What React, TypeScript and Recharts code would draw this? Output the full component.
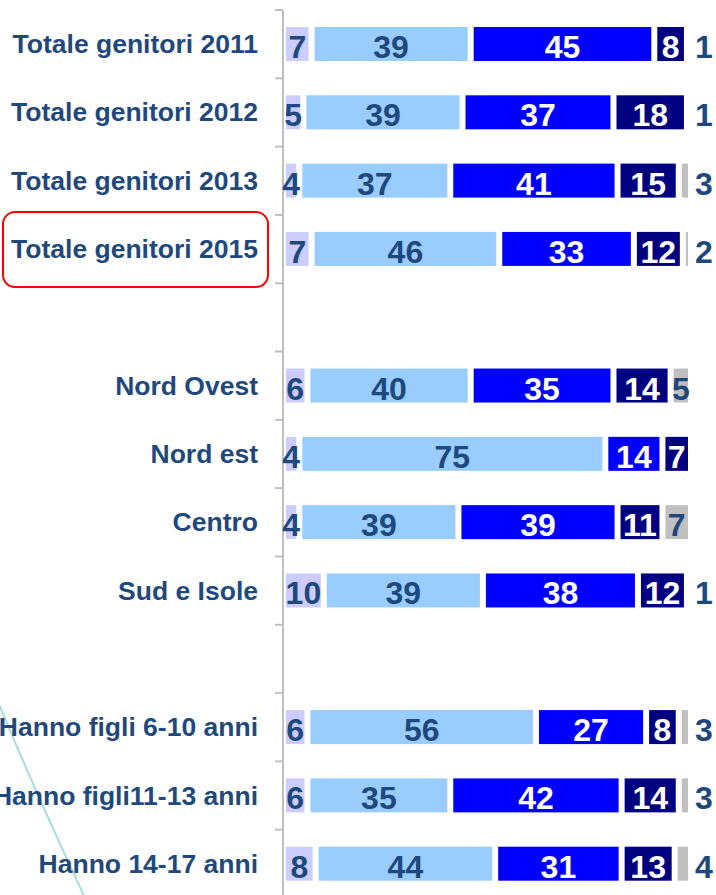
import { BarChart, Bar, XAxis, YAxis, LabelList } from 'recharts';

// rows, top to bottom (empty strings are the spacer rows)
const categories = [
  'Totale genitori 2011',
  'Totale genitori 2012',
  'Totale genitori 2013',
  'Totale genitori 2015',
  '',
  'Nord Ovest',
  'Nord est',
  'Centro',
  'Sud e Isole',
  '',
  'Hanno figli 6-10 anni',
  'Hanno figli11-13 anni',
  'Hanno 14-17 anni',
];

const seg1 = [7, 5, 4, 7, null, 6, 4, 4, 10, null, 6, 6, 8];
const seg2 = [39, 39, 37, 46, null, 40, 75, 39, 39, null, 56, 35, 44];
const seg3 = [45, 37, 41, 33, null, 35, 14, 39, 38, null, 27, 42, 31];
const seg4 = [8, 18, 15, 12, null, 14, 7, 11, 12, null, 8, 14, 13];
const seg5 = [1, 1, 3, 2, null, 5, 0, 7, 1, null, 3, 3, 4];

const highlighted = 'Totale genitori 2015';

const TEXT = '#1F497D';
const FONT = '"Liberation Sans", Arial, sans-serif';
const AXIS_X = 283;
const TOP = 10;
const PLOT_H = 888;
const BAND = PLOT_H / categories.length;

const data = categories.map((name, i) => ({
  id: `row${i}`,
  name,
  s1: seg1[i],
  s2: seg2[i],
  s3: seg3[i],
  s4: seg4[i],
  s5: seg5[i],
}));

const nameById: Record<string, string> = {};
data.forEach((d) => (nameById[d.id] = d.name));

// bars with a white gap around each segment
const InsetBar = (props: any) => {
  const { x, y, width, height, fill } = props;
  const w = width - 6;
  const h = height - 6;
  if (w <= 0 || h <= 0) return null;
  return <rect x={x + 3} y={y + 3} width={w} height={h} fill={fill} />;
};

const CategoryTick = (props: any) => {
  const { x, y, payload } = props;
  const label = nameById[payload.value] ?? '';
  const top = y - BAND / 2;
  return (
    <g>
      <line x1={AXIS_X - 8} x2={AXIS_X} y1={top} y2={top} stroke="#BFBFBF" strokeWidth={2} />
      {label === highlighted && (
        <rect x={3} y={y - 37} width={265} height={75} rx={12} ry={12} fill="none" stroke="#FF0000" strokeWidth={2} />
      )}
      <text
        x={x}
        y={y + 9}
        textAnchor="end"
        fill={TEXT}
        fontFamily={FONT}
        fontWeight="bold"
        fontSize={26.5}
      >
        {label}
      </text>
    </g>
  );
};

const makeLabel = (color: string, outsideIfSmall = false) => (props: any) => {
  const vb = props.viewBox || {};
  const x = props.x ?? vb.x;
  const y = props.y ?? vb.y;
  const width = props.width ?? vb.width;
  const height = props.height ?? vb.height;
  const value = props.value;
  if (value == null || value === 0) return null;
  const cy = y + height / 2 + 14;
  if (outsideIfSmall && value < 5) {
    return (
      <text x={x + width + 4} y={cy} textAnchor="start" fill={TEXT} fontFamily={FONT} fontWeight="bold" fontSize={32}>
        {value}
      </text>
    );
  }
  return (
    <text x={x + width / 2} y={cy} textAnchor="middle" fill={color} fontFamily={FONT} fontWeight="bold" fontSize={32}>
      {value}
    </text>
  );
};

export default function App() {
  return (
    <div style={{ position: 'absolute', top: 0, left: 0, width: 716, height: 895, overflow: 'hidden', background: '#fff' }}>
      <svg width={716} height={895} style={{ position: 'absolute', top: 0, left: 0 }}>
        <path d="M -4 697 Q 30 780 86 900" fill="none" stroke="#A8DCDC" strokeWidth={2} />
      </svg>
      <div style={{ position: 'absolute', top: 0, left: 0 }}>
        <BarChart
          width={716}
          height={TOP + PLOT_H + 2}
          data={data}
          layout="vertical"
          margin={{ top: TOP, right: 25, bottom: 2, left: 0 }}
          barSize={40}
        >
          <XAxis type="number" domain={[0, 100]} hide />
          <YAxis
            type="category"
            dataKey="id"
            width={AXIS_X}
            interval={0}
            tickLine={false}
            tickSize={0}
            tickMargin={25}
            axisLine={{ stroke: '#BFBFBF', strokeWidth: 2 }}
            tick={<CategoryTick />}
          />
          <Bar dataKey="s1" stackId="a" fill="#CCCCFF" shape={<InsetBar />} isAnimationActive={false}>
            <LabelList dataKey="s1" content={makeLabel(TEXT)} />
          </Bar>
          <Bar dataKey="s2" stackId="a" fill="#99CCFF" shape={<InsetBar />} isAnimationActive={false}>
            <LabelList dataKey="s2" content={makeLabel(TEXT)} />
          </Bar>
          <Bar dataKey="s3" stackId="a" fill="#0000FF" shape={<InsetBar />} isAnimationActive={false}>
            <LabelList dataKey="s3" content={makeLabel('#FFFFFF')} />
          </Bar>
          <Bar dataKey="s4" stackId="a" fill="#000080" shape={<InsetBar />} isAnimationActive={false}>
            <LabelList dataKey="s4" content={makeLabel('#FFFFFF')} />
          </Bar>
          <Bar dataKey="s5" stackId="a" fill="#C0C0C0" shape={<InsetBar />} isAnimationActive={false}>
            <LabelList dataKey="s5" content={makeLabel(TEXT, true)} />
          </Bar>
        </BarChart>
      </div>
    </div>
  );
}
